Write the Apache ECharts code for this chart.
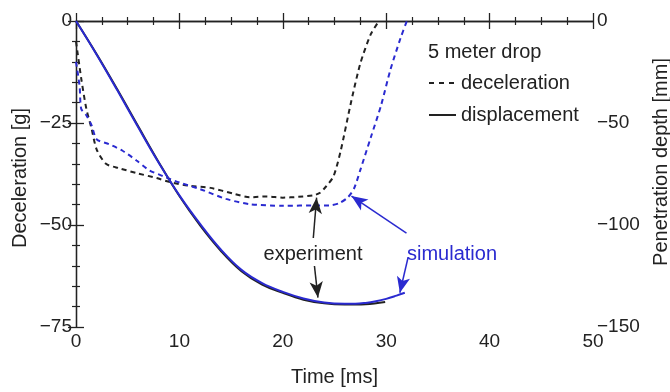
<!DOCTYPE html>
<html>
<head>
<meta charset="utf-8">
<script src="https://cdn.jsdelivr.net/npm/echarts@6/dist/echarts.min.js"></script>
<style>
  html, body { margin: 0; padding: 0; background: #fff; }
  #chart { width: 670px; height: 392px; }
</style>
</head>
<body>
<div id="chart"></div>
<script>
// deceleration [g], experiment (black dashed)
const decExpT = [0, 0.5, 1.0, 1.5, 2.0, 2.9, 4.2, 5.9, 7.8, 9.1, 11.0, 13.0, 15.2, 16.8, 18.5, 20.0, 21.5, 23.0, 23.6, 24.2, 24.9, 25.6, 26.6, 27.5, 28.5, 29.3];
const decExpG = [-5, -14, -21.5, -26.3, -31.5, -35, -36.1, -37.3, -38.5, -39.5, -40.4, -40.9, -42.3, -43.2, -43.0, -43.3, -43.1, -42.7, -42.1, -40.5, -38.1, -31.8, -19.9, -10.4, -3.3, 0];
// deceleration [g], simulation (blue dashed)
const decSimT = [0, 0.35, 0.5, 1.0, 1.5, 2.0, 3.2, 4.5, 5.85, 7.1, 8.4, 10.0, 12.0, 14.5, 16.8, 20.0, 23.3, 24.5, 25.5, 26.3, 26.9, 27.5, 28.5, 29.5, 30.4, 31.4, 32.0];
const decSimG = [-10, -16, -21.5, -23.1, -25.5, -29, -30.2, -31.8, -34.2, -36.6, -38.0, -39.6, -41.2, -43.6, -44.9, -45.3, -45.2, -45.2, -44.6, -43.2, -41.0, -36.5, -28.6, -20.7, -12, -4.1, 0];
// penetration depth [mm], experiment (black solid)
const dispExpT = [0, 2, 4, 6, 8, 10, 12, 14, 16, 18, 20, 22, 24, 26, 28, 29.9];
const dispExpD = [0, -16.3, -33.6, -51.5, -69.2, -85.8, -100.2, -112.6, -122.6, -129.2, -133.3, -136.6, -138.4, -139, -138.8, -137.7];
// penetration depth [mm], simulation (blue solid)
const dispSimT = [0, 2, 4, 6, 8, 10, 12, 14, 16, 18, 20, 22, 24, 26, 27, 28, 29, 30, 31, 31.8];
const dispSimD = [0, -16.5, -34, -52, -69.5, -85.5, -99.5, -112, -122, -128.5, -132.8, -136, -138, -138.6, -138.6, -138.2, -137.4, -136.2, -134.6, -133.2];

const xTicks = [0, 10, 20, 30, 40, 50];
const decTicks = [-75, -50, -25, 0];
const depthTicks = [-150, -100, -50, 0];

const BLUE = '#2a2ad0';
const INK = '#222';
const FONT = "'Liberation Sans', Arial, sans-serif";

const zip = (a, b) => a.map((v, i) => [v, b[i]]);
const minus = v => String(v).replace('-', '\u2212');

const chart = echarts.init(document.getElementById('chart'));

// minor ticks are drawn outward by default, a negative length turns them inward
const axisCommon = {
  axisLine: { lineStyle: { color: INK, width: 1.3 } },
  axisTick: { inside: true, length: 8, lineStyle: { color: INK, width: 1.3 } },
  minorTick: { show: true, length: -4, lineStyle: { color: INK, width: 1.2 } },
  splitLine: { show: false },
  axisLabel: { color: INK, fontSize: 19, fontFamily: FONT, formatter: minus }
};

chart.setOption({
  animation: false,
  backgroundColor: '#fff',
  grid: { left: 76, top: 21, width: 517, height: 316 },
  legend: {
    orient: 'vertical',
    left: 428,
    top: 73,
    padding: 0,
    itemWidth: 27,
    itemHeight: 20,
    itemGap: 12,
    data: ['deceleration', 'displacement'],
    itemStyle: { opacity: 0 },
    textStyle: { color: INK, fontSize: 20, fontFamily: FONT },
    selectedMode: false
  },
  xAxis: [
    Object.assign({}, axisCommon, {
      type: 'value', position: 'bottom', min: xTicks[0], max: xTicks[xTicks.length - 1], interval: 10,
      minorTick: Object.assign({}, axisCommon.minorTick, { splitNumber: 4 }),
      axisLabel: Object.assign({}, axisCommon.axisLabel, { margin: 5 }),
      name: 'Time [ms]', nameLocation: 'middle', nameGap: 40,
      nameTextStyle: { color: INK, fontSize: 20, fontFamily: FONT }
    }),
    Object.assign({}, axisCommon, {
      type: 'value', position: 'top', min: 0, max: 50, interval: 10,
      minorTick: Object.assign({}, axisCommon.minorTick, { splitNumber: 4 }),
      axisLabel: { show: false }
    })
  ],
  yAxis: [
    Object.assign({}, axisCommon, {
      type: 'value', position: 'left', min: decTicks[0], max: decTicks[decTicks.length - 1], interval: 25,
      minorTick: Object.assign({}, axisCommon.minorTick, { splitNumber: 5 }),
      axisLabel: Object.assign({}, axisCommon.axisLabel, { margin: 4 })
    }),
    Object.assign({}, axisCommon, {
      type: 'value', position: 'right', min: depthTicks[0], max: depthTicks[depthTicks.length - 1], interval: 50,
      minorTick: Object.assign({}, axisCommon.minorTick, { splitNumber: 5 }),
      axisLabel: Object.assign({}, axisCommon.axisLabel, { margin: 4 })
    })
  ],
  graphic: [
    { type: 'text', x: 20, y: 178, rotation: Math.PI / 2,
      style: { text: 'Deceleration [g]', fill: INK, font: '20px ' + FONT, align: 'center', verticalAlign: 'middle' } },
    { type: 'text', x: 661, y: 162, rotation: Math.PI / 2,
      style: { text: 'Penetration depth [mm]', fill: INK, font: '20px ' + FONT, align: 'center', verticalAlign: 'middle' } },
    { type: 'text', x: 428, y: 52,
      style: { text: '5 meter drop', fill: INK, font: '20px ' + FONT, align: 'left', verticalAlign: 'middle' } },
    { type: 'text', x: 313, y: 254, z: 10,
      style: { text: 'experiment', fill: INK, font: '20px ' + FONT, align: 'center', verticalAlign: 'middle',
               backgroundColor: '#fff', padding: [2, 2] } },
    { type: 'text', x: 407, y: 254,
      style: { text: 'simulation', fill: BLUE, font: '20px ' + FONT, align: 'left', verticalAlign: 'middle' } }
  ],
  series: [
    {
      name: 'exp-dec', type: 'line', xAxisIndex: 0, yAxisIndex: 0, symbol: 'none', smooth: 0.25,
      data: zip(decExpT, decExpG),
      lineStyle: { color: INK, width: 2, type: [5, 4] }
    },
    {
      name: 'sim-dec', type: 'line', xAxisIndex: 0, yAxisIndex: 0, symbol: 'none', smooth: 0.25,
      data: zip(decSimT, decSimG),
      lineStyle: { color: BLUE, width: 2, type: [5, 4] }
    },
    {
      name: 'exp-disp', type: 'line', xAxisIndex: 0, yAxisIndex: 1, symbol: 'none', smooth: 0.4,
      data: zip(dispExpT, dispExpD),
      lineStyle: { color: INK, width: 2 }
    },
    {
      name: 'sim-disp', type: 'line', xAxisIndex: 0, yAxisIndex: 1, symbol: 'none', smooth: 0.4,
      data: zip(dispSimT, dispSimD),
      lineStyle: { color: BLUE, width: 2 }
    },
    // legend samples only
    { name: 'deceleration', type: 'line', symbol: 'none', data: [], lineStyle: { color: INK, width: 1.5, type: [5, 5] }, itemStyle: { color: INK } },
    { name: 'displacement', type: 'line', symbol: 'none', data: [], lineStyle: { color: INK, width: 2 }, itemStyle: { color: INK } },
    // annotation arrows
    {
      name: 'arrows', type: 'line', xAxisIndex: 0, yAxisIndex: 0, data: [], z: 5,
      markLine: {
        silent: true, symbolSize: [10, 16], label: { show: false },
        data: [
          [{ coord: [22.95, -53.2], symbol: 'none', lineStyle: { color: INK, width: 1.5, type: 'solid' } }, { coord: [23.27, -43.3], symbol: 'arrow' }],
          [{ coord: [22.95, -57.5], symbol: 'none', lineStyle: { color: INK, width: 1.5, type: 'solid' } }, { coord: [23.4, -67.8], symbol: 'arrow' }],
          [{ coord: [31.96, -52.0], symbol: 'none', lineStyle: { color: BLUE, width: 1.5, type: 'solid' } }, { coord: [26.64, -42.9], symbol: 'arrow' }],
          [{ coord: [32.12, -57.9], symbol: 'none', lineStyle: { color: BLUE, width: 1.5, type: 'solid' } }, { coord: [31.32, -66.6], symbol: 'arrow' }]
        ]
      }
    }
  ]
});
</script>
</body>
</html>
